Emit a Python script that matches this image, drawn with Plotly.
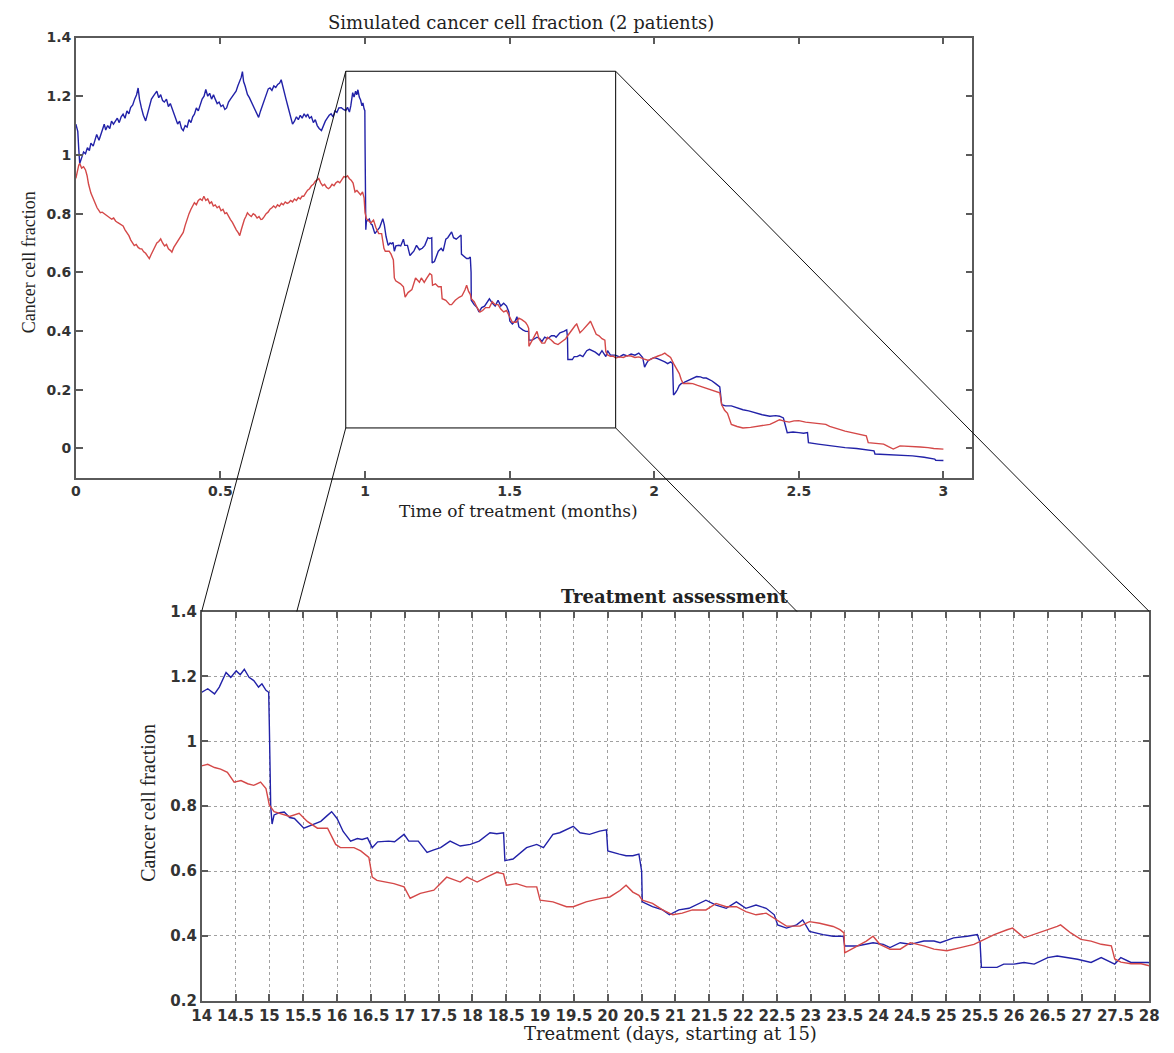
import plotly.graph_objects as go

# ---------------- data (time in days since start of treatment) ----------------
blue_days = [0.00, 0.05, 0.10, 0.15, 0.20, 0.30, 0.40, 0.50, 0.60, 0.70, 0.78, 0.90, 1.00, 1.08, 1.20, 1.30, 1.40, 1.47, 1.55, 1.65, 1.76, 1.85, 1.95, 2.06, 2.15, 2.25, 2.35, 2.45, 2.55, 2.65, 2.75, 2.84, 2.95, 3.05, 3.15, 3.23, 3.30, 3.40, 3.50, 3.62, 3.72, 3.82, 3.92, 4.02, 4.10, 4.20, 4.30, 4.40, 4.50, 4.59, 4.70, 4.80, 4.90, 4.98, 5.08, 5.18, 5.28, 5.38, 5.48, 5.57, 5.67, 5.77, 5.87, 5.97, 6.06, 6.15, 6.25, 6.35, 6.45, 6.55, 6.65, 6.74, 6.84, 6.94, 7.04, 7.14, 7.23, 7.33, 7.43, 7.53, 7.63, 7.73, 7.82, 7.92, 8.02, 8.12, 8.22, 8.31, 8.40, 8.50, 8.58, 8.64, 8.70, 8.78, 8.84, 8.90, 9.00, 9.10, 9.20, 9.30, 9.40, 9.48, 9.58, 9.68, 9.78, 9.88, 9.98, 10.07, 10.17, 10.27, 10.37, 10.47, 10.57, 10.65, 10.72, 10.80, 10.90, 11.00, 11.10, 11.18, 11.24, 11.34, 11.44, 11.54, 11.64, 11.74, 11.84, 11.94, 12.02, 12.12, 12.22, 12.32, 12.42, 12.52, 12.62, 12.74, 12.84, 12.94, 13.04, 13.14, 13.24, 13.34, 13.44, 13.54, 13.64, 13.77, 13.88,
             14.0, 14.09, 14.19, 14.26, 14.36, 14.43, 14.51, 14.57, 14.63, 14.7, 14.77, 14.84, 14.89, 14.95, 14.99, 15.0, 15.02, 15.04, 15.07, 15.15, 15.22, 15.3, 15.37, 15.51, 15.6, 15.66, 15.76, 15.85, 15.92, 16.0, 16.09, 16.2, 16.3, 16.37, 16.45, 16.52, 16.6, 16.76, 16.85, 16.99, 17.06, 17.2, 17.33, 17.43, 17.53, 17.67, 17.82, 17.97, 18.1, 18.26, 18.36, 18.46, 18.48, 18.6, 18.8, 18.95, 19.05, 19.19, 19.29, 19.49, 19.59, 19.73, 19.88, 19.98, 20.0, 20.17, 20.27, 20.37, 20.46, 20.5,
             20.51, 20.66, 20.81, 20.91, 21.05, 21.2, 21.45, 21.6, 21.75, 21.9, 22.04, 22.19, 22.34, 22.46, 22.51, 22.64, 22.79, 22.88, 22.98, 23.18, 23.33, 23.48, 23.5, 23.68, 23.92, 24.07, 24.17, 24.32, 24.47, 24.67, 24.82, 24.91, 25.11, 25.31, 25.46, 25.5, 25.52, 25.75, 25.85, 26.0, 26.15, 26.3, 26.5, 26.64, 26.79, 26.94, 27.14, 27.29, 27.49, 27.58, 27.73, 27.88, 27.98,
             28.2, 28.4, 28.6, 28.8, 29.0, 29.2, 29.4, 29.5, 29.6, 29.7, 29.85, 30.0, 30.2, 30.4, 30.55, 30.7, 30.85, 30.95, 31.0, 31.1, 31.2, 31.3, 31.4, 31.55, 31.7, 31.85, 32.0, 32.2, 32.4, 32.55, 32.7, 32.85, 33.0, 33.2, 33.4, 33.5, 33.7, 34.0, 34.3, 34.6, 34.9, 35.3, 35.6, 36.0, 36.3, 36.5, 36.7, 36.9, 37.2, 37.5, 37.75, 37.95, 38.0, 38.5, 39.0, 39.5, 39.9, 40.5, 41.0, 41.4, 41.45, 41.9, 42.4, 42.9, 43.4, 44.0, 44.55, 44.6, 45.0]
blue_frac = [1.105, 1.09, 1.08, 1.02, 0.971, 0.99, 1.01, 1.004, 1.025, 1.015, 1.04, 1.03, 1.055, 1.07, 1.05, 1.075, 1.09, 1.105, 1.085, 1.10, 1.09, 1.115, 1.105, 1.116, 1.125, 1.11, 1.13, 1.139, 1.125, 1.15, 1.14, 1.161, 1.17, 1.19, 1.205, 1.228, 1.19, 1.16, 1.135, 1.116, 1.14, 1.16, 1.19, 1.2, 1.21, 1.217, 1.195, 1.205, 1.185, 1.18, 1.19, 1.165, 1.175, 1.161, 1.14, 1.12, 1.105, 1.115, 1.09, 1.083, 1.1, 1.095, 1.12, 1.11, 1.13, 1.139, 1.16, 1.15, 1.175, 1.19, 1.2, 1.223, 1.2, 1.21, 1.19, 1.205, 1.19, 1.175, 1.18, 1.165, 1.17, 1.155, 1.16, 1.18, 1.19, 1.2, 1.21, 1.217, 1.235, 1.25, 1.265, 1.284, 1.25, 1.235, 1.215, 1.206, 1.195, 1.18, 1.165, 1.15, 1.14, 1.128, 1.15, 1.17, 1.19, 1.21, 1.225, 1.228, 1.22, 1.235, 1.23, 1.24, 1.245, 1.256, 1.235, 1.215, 1.19, 1.165, 1.14, 1.12, 1.105, 1.115, 1.13, 1.12, 1.135, 1.125, 1.14, 1.13, 1.139, 1.125, 1.13, 1.11, 1.12, 1.1, 1.09, 1.083, 1.1, 1.115, 1.125, 1.135, 1.14, 1.13, 1.15, 1.145, 1.16, 1.161, 1.155,
             1.151, 1.162, 1.146, 1.167, 1.212, 1.197, 1.217, 1.205, 1.222, 1.197, 1.187, 1.167, 1.177, 1.157, 1.151, 1.045, 0.80, 0.745, 0.773, 0.78, 0.782, 0.765, 0.762, 0.732, 0.74, 0.743, 0.753, 0.77, 0.783, 0.762, 0.722, 0.692, 0.70, 0.697, 0.702, 0.672, 0.69, 0.692, 0.69, 0.713, 0.692, 0.692, 0.657, 0.665, 0.672, 0.692, 0.677, 0.682, 0.692, 0.718, 0.715, 0.718, 0.632, 0.637, 0.672, 0.682, 0.672, 0.713, 0.718, 0.738, 0.718, 0.713, 0.723, 0.727, 0.662, 0.652, 0.647, 0.647, 0.652, 0.60,
             0.505, 0.49, 0.48, 0.465, 0.48, 0.485, 0.51, 0.495, 0.485, 0.505, 0.485, 0.495, 0.485, 0.465, 0.434, 0.424, 0.434, 0.449, 0.414, 0.404, 0.399, 0.399, 0.369, 0.369, 0.379, 0.374, 0.364, 0.379, 0.374, 0.384, 0.384, 0.379, 0.394, 0.399, 0.404, 0.38, 0.303, 0.303, 0.313, 0.313, 0.318, 0.313, 0.333, 0.338, 0.333, 0.328, 0.318, 0.333, 0.313, 0.333, 0.318, 0.318, 0.318,
             0.312, 0.32, 0.315, 0.322, 0.318, 0.325, 0.31, 0.277, 0.29, 0.3, 0.305, 0.31, 0.305, 0.3, 0.295, 0.289, 0.295, 0.29, 0.182, 0.19, 0.2, 0.215, 0.221, 0.225, 0.23, 0.235, 0.24, 0.245, 0.244, 0.24, 0.24, 0.235, 0.23, 0.22, 0.21, 0.149, 0.145, 0.145, 0.138, 0.132, 0.128, 0.12, 0.115, 0.11, 0.112, 0.11, 0.104, 0.054, 0.056, 0.054, 0.052, 0.054, 0.02, 0.015, 0.01, 0.006, 0.003, 0.0, -0.004, -0.008, -0.019, -0.02, -0.022, -0.024, -0.025, -0.03, -0.036, -0.04, -0.041]

red_days = [0.00, 0.05, 0.10, 0.15, 0.20, 0.30, 0.40, 0.50, 0.58, 0.66, 0.78, 0.90, 1.00, 1.10, 1.20, 1.27, 1.37, 1.47, 1.57, 1.67, 1.76, 1.86, 1.96, 2.06, 2.16, 2.26, 2.36, 2.45, 2.55, 2.65, 2.75, 2.85, 2.95, 3.03, 3.13, 3.23, 3.33, 3.42, 3.52, 3.62, 3.72, 3.81, 3.90, 4.00, 4.10, 4.20, 4.30, 4.40, 4.50, 4.60, 4.70, 4.80, 4.90, 4.98, 5.08, 5.18, 5.28, 5.38, 5.48, 5.57, 5.67, 5.77, 5.87, 5.97, 6.06, 6.15, 6.25, 6.35, 6.45, 6.55, 6.64, 6.74, 6.84, 6.94, 7.04, 7.13, 7.23, 7.33, 7.43, 7.53, 7.63, 7.73, 7.82, 7.92, 8.02, 8.12, 8.22, 8.32, 8.42, 8.50, 8.58, 8.66, 8.74, 8.82, 8.90, 9.00, 9.10, 9.20, 9.30, 9.40, 9.50, 9.60, 9.67, 9.77, 9.87, 9.97, 10.07, 10.17, 10.26, 10.36, 10.46, 10.56, 10.66, 10.76, 10.86, 10.96, 11.04, 11.14, 11.24, 11.34, 11.44, 11.54, 11.64, 11.74, 11.82, 11.92, 12.02, 12.12, 12.22, 12.32, 12.42, 12.52, 12.60, 12.70, 12.80, 12.90, 13.00, 13.10, 13.19, 13.29, 13.39, 13.49, 13.59, 13.69, 13.79, 13.90,
            14.0, 14.09, 14.19, 14.28, 14.38, 14.48, 14.58, 14.68, 14.77, 14.87, 14.95, 15.0, 15.07, 15.15, 15.3, 15.44, 15.56, 15.71, 15.86, 15.98, 16.05, 16.25, 16.35, 16.47, 16.52, 16.59, 16.84, 16.99, 17.08, 17.23, 17.43, 17.62, 17.82, 17.92, 18.07, 18.21, 18.36, 18.46, 18.5, 18.65, 18.8, 18.95, 19.0, 19.19, 19.39, 19.49, 19.68, 19.88, 20.03, 20.18, 20.27, 20.37, 20.46,
            20.51, 20.66, 20.81, 20.96, 21.1, 21.25, 21.45, 21.6, 21.75, 21.9, 22.04, 22.19, 22.34, 22.49, 22.64, 22.84, 22.98, 23.13, 23.33, 23.43, 23.49, 23.5, 23.68, 23.82, 23.92, 24.02, 24.17, 24.32, 24.47, 24.67, 24.82, 25.01, 25.21, 25.41, 25.51, 25.71, 25.9, 25.98, 26.15, 26.3, 26.45, 26.64, 26.69, 26.84, 26.99, 27.14, 27.29, 27.44, 27.49, 27.58, 27.73, 27.88, 28.0,
            28.2, 28.4, 28.6, 28.8, 29.0, 29.2, 29.45, 29.7, 29.85, 30.0, 30.2, 30.4, 30.55, 30.7, 30.85, 31.0, 31.15, 31.3, 31.4, 31.5, 31.75, 32.0, 32.25, 32.5, 32.75, 33.0, 33.2, 33.4, 33.5, 33.65, 33.8, 34.0, 34.3, 34.6, 35.0, 35.4, 35.7, 36.0, 36.25, 36.5, 36.75, 37.0, 37.25, 37.5, 37.85, 38.2, 38.55, 38.9, 39.1, 39.4, 39.65, 39.9, 40.2, 40.5, 40.75, 41.0, 41.1, 41.5, 41.9, 42.15, 42.4, 42.75, 43.2, 43.8, 44.2, 44.5, 45.0]
red_frac = [0.92, 0.94, 0.96, 0.965, 0.971, 0.955, 0.96, 0.949, 0.93, 0.9, 0.87, 0.85, 0.83, 0.82, 0.81, 0.803, 0.805, 0.8, 0.795, 0.79, 0.785, 0.781, 0.785, 0.775, 0.77, 0.765, 0.76, 0.758, 0.745, 0.735, 0.725, 0.71, 0.7, 0.691, 0.695, 0.685, 0.68, 0.68, 0.67, 0.665, 0.655, 0.647, 0.66, 0.675, 0.69, 0.7, 0.705, 0.714, 0.7, 0.69, 0.695, 0.68, 0.675, 0.669, 0.685, 0.695, 0.705, 0.715, 0.725, 0.736, 0.76, 0.785, 0.8, 0.815, 0.825, 0.837, 0.83, 0.845, 0.85, 0.845, 0.859, 0.845, 0.85, 0.835, 0.84, 0.826, 0.83, 0.82, 0.825, 0.81, 0.815, 0.8, 0.803, 0.79, 0.78, 0.77, 0.755, 0.745, 0.735, 0.725, 0.745, 0.765, 0.78, 0.79, 0.803, 0.795, 0.79, 0.8, 0.795, 0.785, 0.79, 0.78, 0.781, 0.79, 0.8, 0.805, 0.815, 0.82, 0.826, 0.82, 0.83, 0.825, 0.835, 0.83, 0.84, 0.835, 0.837, 0.845, 0.84, 0.85, 0.845, 0.855, 0.85, 0.86, 0.859, 0.87, 0.88, 0.885, 0.895, 0.9, 0.91, 0.915, 0.92, 0.905, 0.895, 0.9, 0.89, 0.885, 0.89, 0.9, 0.895, 0.905, 0.91, 0.905, 0.915, 0.926,
            0.924, 0.929, 0.919, 0.914, 0.904, 0.874, 0.879, 0.869, 0.864, 0.874, 0.854, 0.803, 0.783, 0.778, 0.768, 0.778, 0.753, 0.732, 0.732, 0.682, 0.672, 0.672, 0.662, 0.642, 0.581, 0.571, 0.561, 0.551, 0.516, 0.531, 0.541, 0.581, 0.566, 0.581, 0.566, 0.581, 0.596, 0.591, 0.556, 0.561, 0.551, 0.551, 0.51, 0.505, 0.49, 0.49, 0.505, 0.515, 0.52, 0.54, 0.556, 0.535, 0.525,
            0.51, 0.5, 0.48, 0.465, 0.47, 0.48, 0.48, 0.5, 0.49, 0.49, 0.475, 0.465, 0.47, 0.45, 0.43, 0.43, 0.444, 0.439, 0.429, 0.419, 0.409, 0.348, 0.369, 0.384, 0.399, 0.374, 0.359, 0.359, 0.379, 0.369, 0.359, 0.354, 0.364, 0.374, 0.384, 0.404, 0.419, 0.424, 0.394, 0.404, 0.414, 0.429, 0.434, 0.409, 0.389, 0.384, 0.374, 0.369, 0.329, 0.319, 0.314, 0.314, 0.308,
            0.312, 0.31, 0.316, 0.315, 0.31, 0.312, 0.305, 0.30, 0.305, 0.31, 0.315, 0.32, 0.325, 0.317, 0.31, 0.29, 0.27, 0.255, 0.235, 0.221, 0.222, 0.221, 0.215, 0.21, 0.205, 0.199, 0.195, 0.19, 0.149, 0.13, 0.12, 0.082, 0.075, 0.07, 0.072, 0.075, 0.078, 0.082, 0.09, 0.098, 0.093, 0.09, 0.094, 0.095, 0.09, 0.087, 0.085, 0.082, 0.075, 0.07, 0.064, 0.059, 0.055, 0.05, 0.047, 0.043, 0.02, 0.018, 0.015, 0.006, -0.002, 0.009, 0.008, 0.005, 0.003, 0.0, -0.002]

DAYS_PER_MONTH = 15  # x axis of the overview is in months (day / 15)

top_xticks = [0, 0.5, 1, 1.5, 2, 2.5, 3]
top_xlabels = ["0", "0.5", "1", "1.5", "2", "2.5", "3"]
top_yticks = [0, 0.2, 0.4, 0.6, 0.8, 1.0, 1.2, 1.4]
top_ylabels = ["0", "0.2", "0.4", "0.6", "0.8", "1", "1.2", "1.4"]
bot_xticks = [14 + 0.5 * i for i in range(29)]
bot_xlabels = [("%g" % v) for v in bot_xticks]
bot_yticks = [0.2, 0.4, 0.6, 0.8, 1.0, 1.2, 1.4]
bot_ylabels = ["0.2", "0.4", "0.6", "0.8", "1", "1.2", "1.4"]

zoom_days = [14, 28]          # zoomed window (days)
zoom_frac = [0.07, 1.285]     # height of the zoom box in the overview

# ---------------- layout geometry ----------------
W, H = 1174, 1053
TOP_X = [67 / W, 979 / W]
TOP_Y = [1 - 477 / H, 1 - 29 / H]
BOT_X = [195 / W, 1159 / W]
BOT_Y = [1 - 1009 / H, 1 - 613 / H]
TOP_XR = [0, 3.1]
TOP_YR = [-0.1, 1.4]
BOT_XR = [14, 28]
BOT_YR = [0.2, 1.4]

BLUE = "#2222a8"
RED = "#d44848"
AX = "#5a5a5a"
TICKFONT = "DejaVu Sans"
SERIF = "DejaVu Serif"

fig = go.Figure()
for days, frac, col in [(blue_days, blue_frac, BLUE), (red_days, red_frac, RED)]:
    fig.add_trace(go.Scatter(x=[d / DAYS_PER_MONTH for d in days], y=frac, mode="lines",
                             line=dict(color=col, width=1.4), xaxis="x", yaxis="y",
                             showlegend=False, hoverinfo="skip"))
for days, frac, col in [(blue_days, blue_frac, BLUE), (red_days, red_frac, RED)]:
    fig.add_trace(go.Scatter(x=days, y=frac, mode="lines",
                             line=dict(color=col, width=1.4), xaxis="x2", yaxis="y2",
                             showlegend=False, hoverinfo="skip"))

common = dict(showline=True, linecolor=AX, linewidth=1.5, mirror="ticks", ticks="inside",
              tickcolor=AX, tickwidth=1.5, zeroline=False, tickmode="array", tickangle=0)

fig.update_layout(
    width=W, height=H, autosize=False,
    margin=dict(l=0, r=0, t=0, b=0),
    paper_bgcolor="white", plot_bgcolor="white",
    xaxis=dict(domain=TOP_X, range=TOP_XR, tickvals=top_xticks, ticktext=top_xlabels,
               ticklen=7, showgrid=False, anchor="y",
               tickfont=dict(family=TICKFONT, size=14, color="#333333", weight="bold"), **common),
    yaxis=dict(domain=TOP_Y, range=TOP_YR, tickvals=top_yticks, ticktext=top_ylabels,
               ticklen=7, showgrid=False, anchor="x",
               tickfont=dict(family=TICKFONT, size=14, color="#333333", weight="bold"), **common),
    xaxis2=dict(domain=BOT_X, range=BOT_XR, tickvals=bot_xticks, ticktext=bot_xlabels,
                ticklen=7, showgrid=True, gridcolor="#a0a0a0", griddash="dot", gridwidth=1,
                anchor="y2",
                tickfont=dict(family=TICKFONT, size=15, color="#333333", weight="bold"), **common),
    yaxis2=dict(domain=BOT_Y, range=BOT_YR, tickvals=bot_yticks, ticktext=bot_ylabels,
                ticklen=7, showgrid=True, gridcolor="#a0a0a0", griddash="dot", gridwidth=1,
                anchor="x2",
                tickfont=dict(family=TICKFONT, size=15, color="#333333", weight="bold"), **common),
)


def to_paper(v, rng, dom):
    return dom[0] + (v - rng[0]) / (rng[1] - rng[0]) * (dom[1] - dom[0])


# zoom box in the overview (months)
bx0, bx1 = zoom_days[0] / DAYS_PER_MONTH, zoom_days[1] / DAYS_PER_MONTH
fig.add_shape(type="rect", xref="x", yref="y", x0=bx0, x1=bx1, y0=zoom_frac[0], y1=zoom_frac[1],
              line=dict(color="black", width=1))

# box corners in paper coordinates
pbx0, pbx1 = to_paper(bx0, TOP_XR, TOP_X), to_paper(bx1, TOP_XR, TOP_X)
pby0, pby1 = to_paper(zoom_frac[0], TOP_YR, TOP_Y), to_paper(zoom_frac[1], TOP_YR, TOP_Y)
# upper corners of the detailed plot
ptl = (BOT_X[0], BOT_Y[1])
ptr = (BOT_X[1], BOT_Y[1])

connectors = [((pbx0, pby1), ptl), ((pbx1, pby1), ptr)]
# parallel lines from the lower box corners, ending at the top edge of the detail plot
for (sx, sy), (ex, ey), lx in [((pbx0, pby1), ptl, pbx0), ((pbx1, pby1), ptr, pbx1)]:
    dx, dy = ex - sx, ey - sy
    t = (BOT_Y[1] - pby0) / dy
    connectors.append(((lx, pby0), (lx + t * dx, BOT_Y[1])))
for (x0, y0), (x1, y1) in connectors:
    fig.add_shape(type="line", xref="paper", yref="paper", x0=x0, y0=y0, x1=x1, y1=y1,
                  line=dict(color="#111111", width=1))


def ann(text, x, y, size, family=SERIF, angle=0, weight="normal"):
    fig.add_annotation(text=text, xref="paper", yref="paper", x=x / W, y=1 - y / H,
                       showarrow=False, textangle=angle, xanchor="center", yanchor="middle",
                       font=dict(family=family, size=size, color="#222222", weight=weight))


ann("Simulated cancer cell fraction (2 patients)", 520, 14, 18)
ann("Time of treatment (months)", 517, 511, 17)
ann("Cancer cell fraction", 19, 258, 18, family="Liberation Serif", angle=-90)
ann("Treatment assessment", 676, 598, 18, weight="bold")
ann("Treatment (days, starting at 15)", 672, 1042, 18)
ann("Cancer cell fraction", 141, 808, 20, family="Liberation Serif", angle=-90)

fig.write_html("out.html")
